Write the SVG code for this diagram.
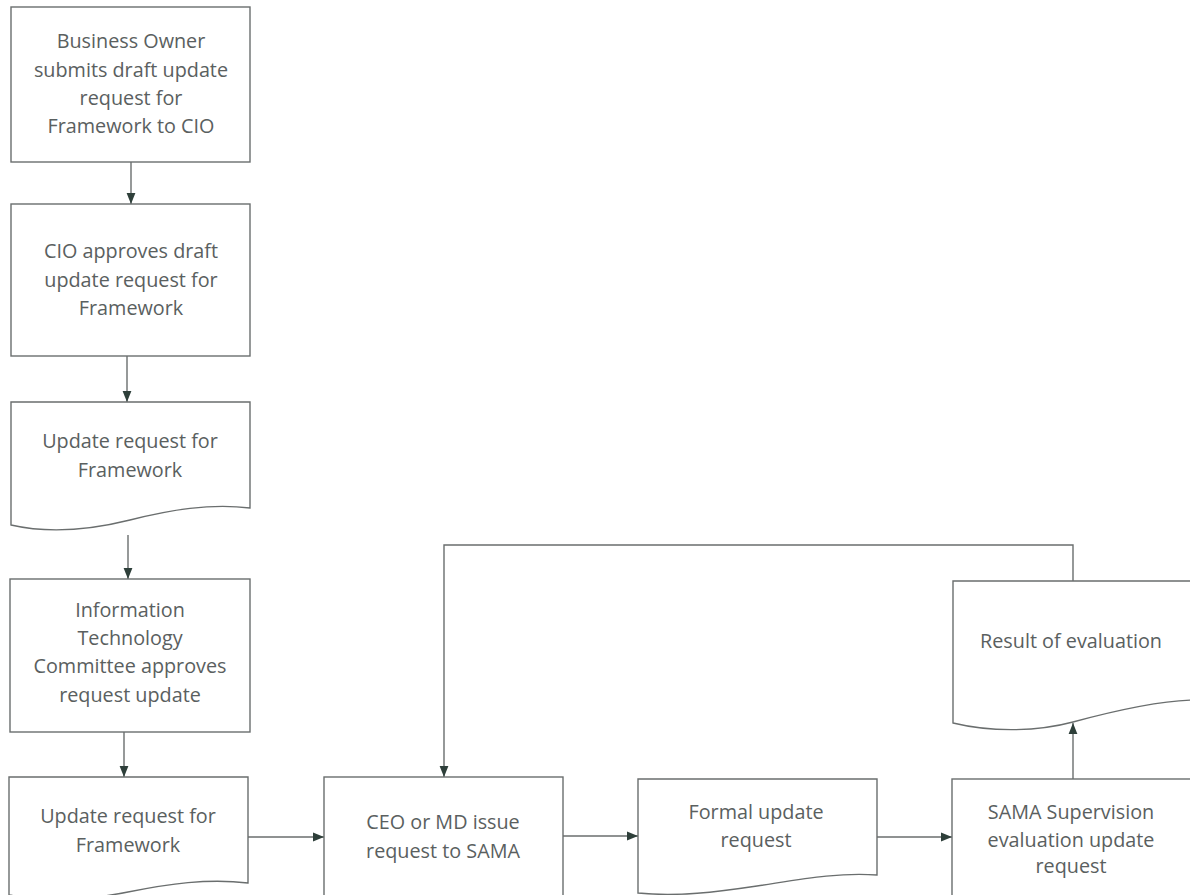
<svg xmlns="http://www.w3.org/2000/svg" width="1190" height="895" viewBox="0 0 1190 895">
<style>
.box{fill:#fff;stroke:#6a6e6e;stroke-width:1.4}
.t{font-family:"Open Sans","Liberation Sans",sans-serif;font-size:19.8px;fill:#5a6060;text-anchor:middle}
.c{fill:none;stroke:#6a6e6e;stroke-width:1.4}
</style>
<defs>
<marker id="ah" markerWidth="11" markerHeight="11" viewBox="0 0 11 10" refX="11" refY="5" orient="auto" markerUnits="userSpaceOnUse">
<path d="M0,0.6 L11,5 L0,9.4 Z" fill="#2e3f3a"/>
</marker>
</defs>
<rect width="1190" height="895" fill="#fff"/>
<g id="connectors">
<path class="c" d="M131,162 V204" marker-end="url(#ah)"/>
<path class="c" d="M127,356 V402" marker-end="url(#ah)"/>
<path class="c" d="M128,535 V579" marker-end="url(#ah)"/>
<path class="c" d="M124,732 V777" marker-end="url(#ah)"/>
<path class="c" d="M248,837 H324" marker-end="url(#ah)"/>
<path class="c" d="M563,836 H638" marker-end="url(#ah)"/>
<path class="c" d="M877,837 H952" marker-end="url(#ah)"/>
<path class="c" d="M1073,779 V723" marker-end="url(#ah)"/>
<path class="c" d="M1073,581 V545 H444 V777" marker-end="url(#ah)"/>
</g>
<g id="n1">
<rect class="box" x="11" y="7" width="239" height="155"/>
<text class="t" x="131" y="48">Business Owner</text>
<text class="t" x="131" y="77">submits draft update</text>
<text class="t" x="131" y="105">request for</text>
<text class="t" x="131" y="133">Framework to CIO</text>
</g>
<g id="n2">
<rect class="box" x="11" y="204" width="239" height="152"/>
<text class="t" x="131" y="258">CIO approves draft</text>
<text class="t" x="131" y="287">update request for</text>
<text class="t" x="131" y="315">Framework</text>
</g>
<g id="n3">
<path class="box" d="M11,402 H250 V508 C210,503 170,510 130,520 C90,530 50,534 11,525 Z"/>
<text class="t" x="130" y="448">Update request for</text>
<text class="t" x="130" y="477">Framework</text>
</g>
<g id="n4">
<rect class="box" x="10" y="579" width="240" height="153"/>
<text class="t" x="130" y="617">Information</text>
<text class="t" x="130" y="645">Technology</text>
<text class="t" x="130" y="673">Committee approves</text>
<text class="t" x="130" y="702">request update</text>
</g>
<g id="n5">
<path class="box" d="M9,777 H248 V883 C208,878 168,884 128,892 C88,900 48,902 9,895 Z"/>
<text class="t" x="128" y="823">Update request for</text>
<text class="t" x="128" y="852">Framework</text>
</g>
<g id="n6">
<rect class="box" x="324" y="777" width="239" height="130"/>
<text class="t" x="443" y="829">CEO or MD issue</text>
<text class="t" x="443" y="858">request to SAMA</text>
</g>
<g id="n7">
<path class="box" d="M638,779 H877 V875 C837,872 797,880 757,886 C717,892 677,897 638,893 Z"/>
<text class="t" x="756" y="819">Formal update</text>
<text class="t" x="756" y="847">request</text>
</g>
<g id="n8">
<rect class="box" x="952" y="779" width="245" height="130"/>
<text class="t" x="1071" y="819">SAMA Supervision</text>
<text class="t" x="1071" y="847">evaluation update</text>
<text class="t" x="1071" y="873">request</text>
</g>
<g id="n9">
<path class="box" d="M953,581 H1197 V700 C1160,700 1110,712 1073,722 C1036,732 990,732 953,723 Z"/>
<text class="t" x="1071" y="648">Result of evaluation</text>
</g>
</svg>
